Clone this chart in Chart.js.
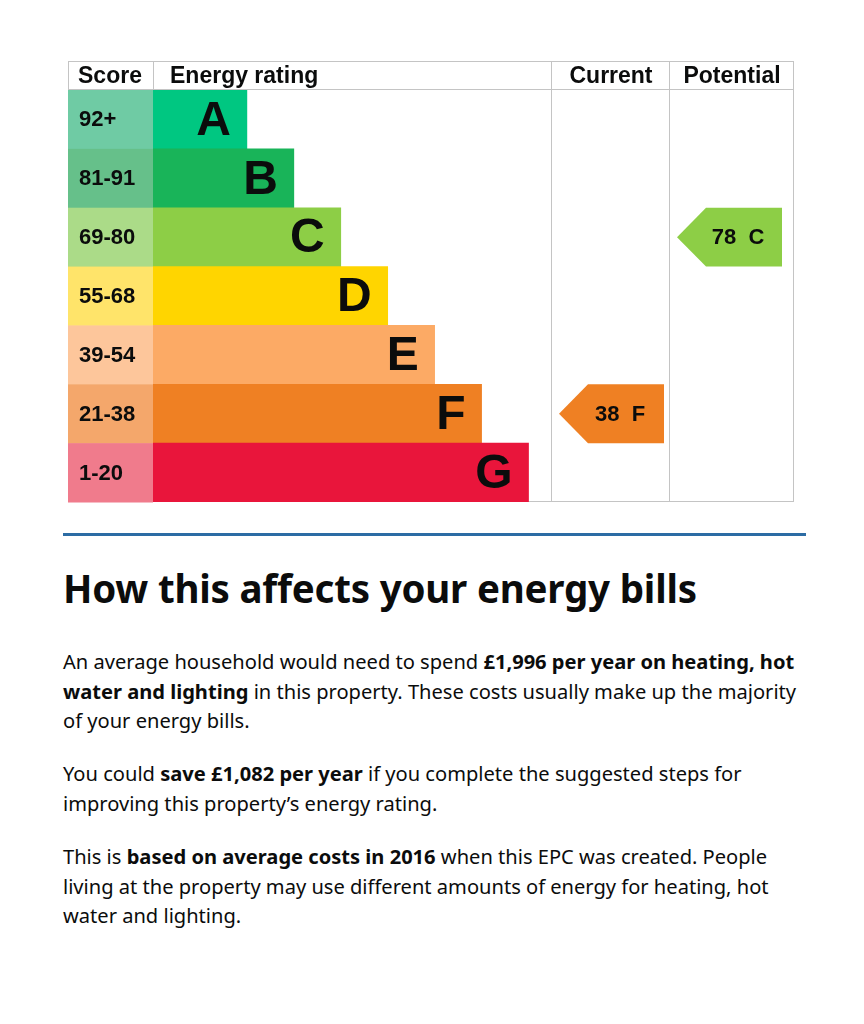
<!DOCTYPE html>
<html>
<head>
<meta charset="utf-8">
<script src="https://cdn.jsdelivr.net/npm/chart.js@4.4.0/dist/chart.umd.min.js"></script>
<style>
  body { margin: 0; background: #fff; width: 864px; height: 1024px; position: relative; overflow: hidden; }
  #epc { position: absolute; left: 60px; top: 55px; }
  .rule { position: absolute; left: 63px; top: 533px; width: 743px; height: 3px; background: #2c6ca4; }
  h2 { position: absolute; left: 63px; top: 566px; margin: 0; font: 700 38.5px/44px "Noto Sans", sans-serif; color: #0b0c0c; letter-spacing: -0.2px; }
  .para { position: absolute; left: 63px; margin: 0; font: 400 20.1px/29.5px "Noto Sans", sans-serif; color: #0b0c0c; white-space: nowrap; }
  .para b { font-weight: 700; }
</style>
</head>
<body>
<canvas id="epc" width="745" height="455"></canvas>
<div class="rule"></div>
<h2>How this affects your energy bills</h2>
<p class="para" style="top:647px">An average household would need to spend <b>£1,996 per year on heating, hot</b><br><b>water and lighting</b> in this property. These costs usually make up the majority<br>of your energy bills.</p>
<p class="para" style="top:759px">You could <b>save £1,082 per year</b> if you complete the suggested steps for<br>improving this property’s energy rating.</p>
<p class="para" style="top:842px">This is <b>based on average costs in 2016</b> when this EPC was created. People<br>living at the property may use different amounts of energy for heating, hot<br>water and lighting.</p>

<script>
// 数据：能效等级、分数范围、条形长度
const bands = ['A', 'B', 'C', 'D', 'E', 'F', 'G'];
const scoreRanges = ['92+', '81-91', '69-80', '55-68', '39-54', '21-38', '1-20'];
const barLengths = [2, 3, 4, 5, 6, 7, 8];
const bandColors = ['#00c781', '#19b459', '#8dce46', '#ffd500', '#fcaa65', '#ef8023', '#e9153b'];
const scoreColors = ['#6fcba4', '#66c08a', '#abdb88', '#ffe46a', '#fdc69b', '#f4a76b', '#f07b8c'];
const headers = ['Score', 'Energy rating', 'Current', 'Potential'];
const currentScore = 38, currentBand = 'F';
const potentialScore = 78, potentialBand = 'C';

// 列宽（像素）
const scoreColW = 85, currentColW = 118, potentialColW = 124, headerH = 29;
const gridColor = '#c4c4c4';
const labelFont = '"Liberation Sans", Arial, sans-serif';

// 表格框架、分数列和箭头
const epcTable = {
    id: 'epcTable',
    beforeDatasetsDraw(chart) {
        const ctx = chart.ctx;
        const ca = chart.chartArea;
        const y = chart.scales.y;
        const rowH = (ca.bottom - ca.top) / bands.length;
        const tableLeft = ca.left - scoreColW;
        const headerTop = ca.top - headerH;
        const currentRight = ca.right + currentColW;
        const potentialRight = currentRight + potentialColW;

        ctx.save();
        // 分数列
        scoreRanges.forEach((s, i) => {
            const yc = y.getPixelForValue(i);
            ctx.fillStyle = scoreColors[i];
            ctx.fillRect(tableLeft, yc - rowH / 2, scoreColW, rowH + 0.5);
            ctx.fillStyle = '#0b0c0c';
            ctx.font = 'bold 22px ' + labelFont;
            ctx.textAlign = 'left';
            ctx.textBaseline = 'middle';
            ctx.fillText(s, tableLeft + 11, yc + 1);
        });

        // 网格线
        ctx.strokeStyle = gridColor;
        ctx.lineWidth = 1;
        ctx.beginPath();
        ctx.moveTo(tableLeft, headerTop + 0.5); ctx.lineTo(potentialRight, headerTop + 0.5);
        ctx.moveTo(tableLeft, ca.top - 0.5); ctx.lineTo(potentialRight, ca.top - 0.5);
        ctx.moveTo(ca.left, ca.bottom - 0.5); ctx.lineTo(potentialRight, ca.bottom - 0.5);
        ctx.moveTo(tableLeft + 0.5, headerTop); ctx.lineTo(tableLeft + 0.5, ca.top);
        ctx.moveTo(ca.left + 0.5, headerTop); ctx.lineTo(ca.left + 0.5, ca.top);
        [ca.right, currentRight, potentialRight].forEach(x => {
            ctx.moveTo(Math.round(x) - 0.5, headerTop); ctx.lineTo(Math.round(x) - 0.5, ca.bottom);
        });
        ctx.stroke();

        // 表头
        ctx.fillStyle = '#0b0c0c';
        ctx.font = 'bold 23px ' + labelFont;
        ctx.textBaseline = 'middle';
        const hy = headerTop + headerH / 2 + 1;
        ctx.textAlign = 'left';
        ctx.fillText(headers[0], tableLeft + 10, hy);
        ctx.fillText(headers[1], ca.left + 17, hy);
        ctx.textAlign = 'center';
        ctx.fillText(headers[2], ca.right + currentColW / 2, hy);
        ctx.fillText(headers[3], currentRight + potentialColW / 2, hy);
        ctx.restore();
    },
    afterDatasetsDraw(chart) {
        const ctx = chart.ctx;
        const ca = chart.chartArea;
        const meta = chart.getDatasetMeta(0);
        const y = chart.scales.y;
        const rowH = (ca.bottom - ca.top) / bands.length;

        ctx.save();
        // 条形内的等级字母
        ctx.fillStyle = '#0b0c0c';
        ctx.font = 'bold 48px ' + labelFont;
        ctx.textAlign = 'right';
        ctx.textBaseline = 'middle';
        meta.data.forEach((bar, i) => {
            ctx.fillText(bands[i], bar.x - 16, bar.y + 2);
        });

        // 当前 / 潜在 箭头
        const drawArrow = (colLeft, band, score) => {
            const i = bands.indexOf(band);
            const yc = y.getPixelForValue(i);
            const top = yc - rowH / 2, bot = yc + rowH / 2;
            const x0 = colLeft + 7, tip = 29, w = 105;
            ctx.fillStyle = bandColors[i];
            ctx.beginPath();
            ctx.moveTo(x0, yc);
            ctx.lineTo(x0 + tip, top);
            ctx.lineTo(x0 + w, top);
            ctx.lineTo(x0 + w, bot);
            ctx.lineTo(x0 + tip, bot);
            ctx.closePath();
            ctx.fill();
            ctx.fillStyle = '#0b0c0c';
            ctx.font = 'bold 22px ' + labelFont;
            ctx.textAlign = 'center';
            ctx.fillText(score + '  ' + band, x0 + tip + (w - tip) / 2 - 6, yc + 1);
        };
        drawArrow(ca.right, currentBand, currentScore);
        drawArrow(ca.right + currentColW, potentialBand, potentialScore);
        ctx.restore();
    }
};

new Chart(document.getElementById('epc'), {
    type: 'bar',
    data: {
        labels: bands,
        datasets: [{
            data: barLengths,
            backgroundColor: bandColors,
            borderWidth: 0,
            barPercentage: 1,
            categoryPercentage: 1
        }]
    },
    options: {
        indexAxis: 'y',
        responsive: false,
        animation: false,
        layout: { padding: { left: 93, right: 253, top: 35, bottom: 8 } },
        scales: {
            x: { display: false, min: 0, max: 8.5 },
            y: { display: false }
        },
        plugins: { legend: { display: false }, tooltip: { enabled: false } }
    },
    plugins: [epcTable]
});
</script>
</body>
</html>
